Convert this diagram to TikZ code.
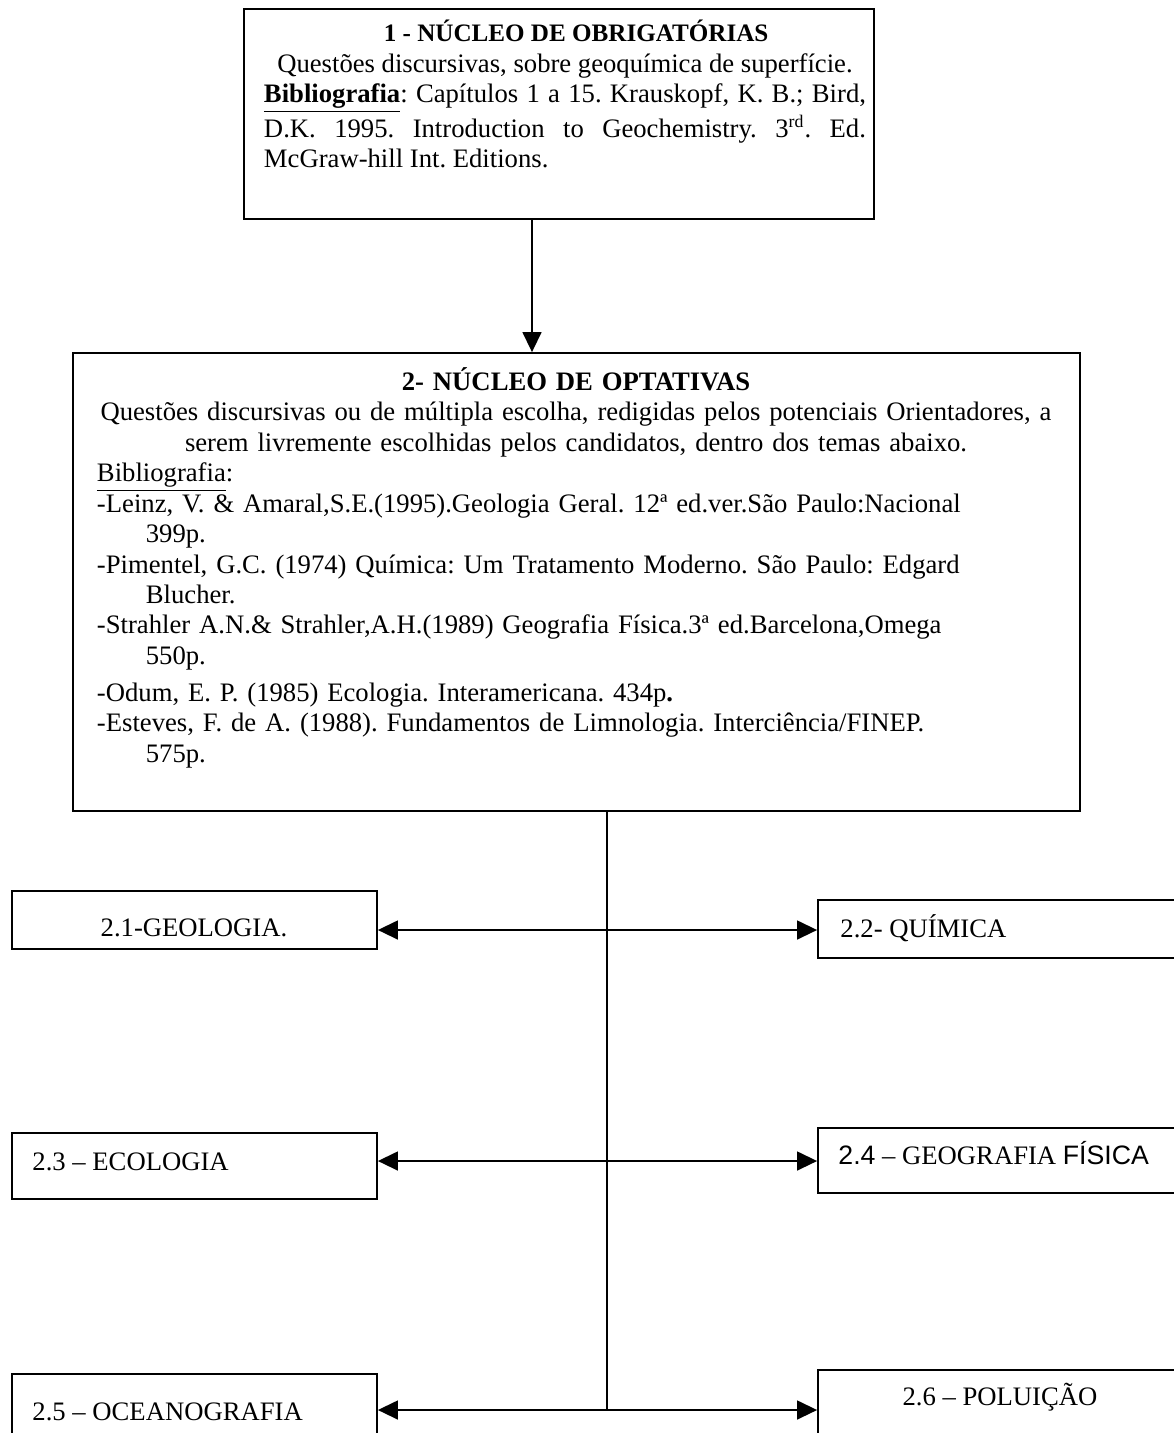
\documentclass[tikz,border=0pt]{standalone}
\usepackage{fontspec}
\setmainfont{Liberation Serif}
\newfontfamily\arial{Liberation Sans}
\usetikzlibrary{arrows.meta,fit}
\tikzset{
  caixa/.style     = {draw, line width=0.8pt, inner sep=0pt},
  texto/.style     = {inner sep=0pt, font=\fontsize{12}{13.7}\selectfont\frenchspacing},
  tema/.style      = {texto, anchor=base west},
  linha/.style     = {line width=0.8pt},
  seta/.style      = {linha, -{Triangle[length=9pt,width=8.5pt]}},
  setadupla/.style = {linha, {Triangle[length=9pt,width=8.5pt]}-{Triangle[length=9pt,width=8.5pt]}}
}

\begin{document}
\begin{tikzpicture}[x=0.45pt, y=-0.45pt]
  \useasboundingbox (0,0) rectangle (1174,1433);
  \clip (0,0) rectangle (1174,1433);

  % nucleos
  \node [caixa, fit={(244,9) (874,219)}] (obrig) {};
  \node [texto, text width=270.9pt, align=justify, anchor=north] (tobrig) at (565,20)
    {{\centering\hspace*{10pt}{\fontsize{11.3}{13.7}\selectfont\textbf{1 - NÚCLEO DE OBRIGATÓRIAS}}\\
      Questões discursivas, sobre geoquímica de superfície.\par}
     \noindent\underline{\textbf{Bibliografia}}: Capítulos 1 a 15. Krauskopf, K. B.; Bird,\linebreak
     D.K. 1995. Introduction to Geochemistry. 3\textsuperscript{rd}. Ed.\linebreak
     McGraw-hill Int. Editions.};

  \node [caixa, fit={(73,353) (1080,811)}] (optat) {};
  \node [texto, text width=431.1pt, anchor=north] (toptat) at (576,367)
    {\raggedright
     \makebox[\linewidth]{\textbf{2- NÚCLEO DE OPTATIVAS}}\\
     \makebox[\linewidth]{Questões discursivas ou de múltipla escolha, redigidas pelos potenciais Orientadores, a}\\
     \makebox[\linewidth]{serem livremente escolhidas pelos candidatos, dentro dos temas abaixo.}\\
     \underline{Bibliografia}:\\
     -Leinz, V. \& Amaral,S.E.(1995).Geologia Geral. 12ª ed.ver.São Paulo:Nacional\\
     \hspace*{22pt}399p.\\
     -Pimentel, G.C. (1974) Química: Um Tratamento Moderno. São Paulo: Edgard\\
     \hspace*{22pt}Blucher.\\
     -Strahler A.N.\& Strahler,A.H.(1989) Geografia Física.3ª ed.Barcelona,Omega\\
     \hspace*{22pt}550p.\\[3pt]
     -Odum, E. P. (1985) Ecologia. Interamericana. 434p\textbf{.}\\
     -Esteves, F. de A. (1988). Fundamentos de Limnologia. Interciência/FINEP.\\
     \hspace*{22pt}575p.};

  \draw [seta] (obrig.south -| 532,0) -- (optat.north -| 532,0);

  % temas
  \node [caixa, fit={(12,891) (377,949)}]    (geo) {};
  \node [caixa, fit={(818,900) (1182,958)}]  (qui) {};
  \node [caixa, fit={(12,1133) (377,1199)}]  (eco) {};
  \node [caixa, fit={(818,1128) (1182,1193)}] (gfis) {};
  \node [caixa, fit={(12,1374) (377,1450)}]  (oce) {};
  \node [caixa, fit={(818,1370) (1182,1450)}] (pol) {};

  \node [texto, anchor=base] (tgeo) at (194,936) {2.1-GEOLOGIA.};
  \node [tema] (tqui)  at (840,937)  {2.2- QUÍMICA};
  \node [tema] (teco)  at (32,1170)  {2.3 – ECOLOGIA};
  \node [tema] (tgfis) at (838,1164) {{\arial 2.4} – GEOGRAFIA {\arial FÍSICA}};
  \node [tema] (toce)  at (32,1420)  {2.5 – OCEANOGRAFIA};
  \node [texto, anchor=base] (tpol) at (1000,1405) {2.6 – POLUIÇÃO};

  % ligacoes
  \coordinate (j1) at (607,930);
  \coordinate (j2) at (607,1161);
  \coordinate (j3) at (607,1410);
  \draw [linha] (optat.south -| j1) -- (j3);
  \draw [setadupla] (geo.east |- j1) -- (qui.west |- j1);
  \draw [setadupla] (eco.east |- j2) -- (gfis.west |- j2);
  \draw [setadupla] (oce.east |- j3) -- (pol.west |- j3);
\end{tikzpicture}
\end{document}
